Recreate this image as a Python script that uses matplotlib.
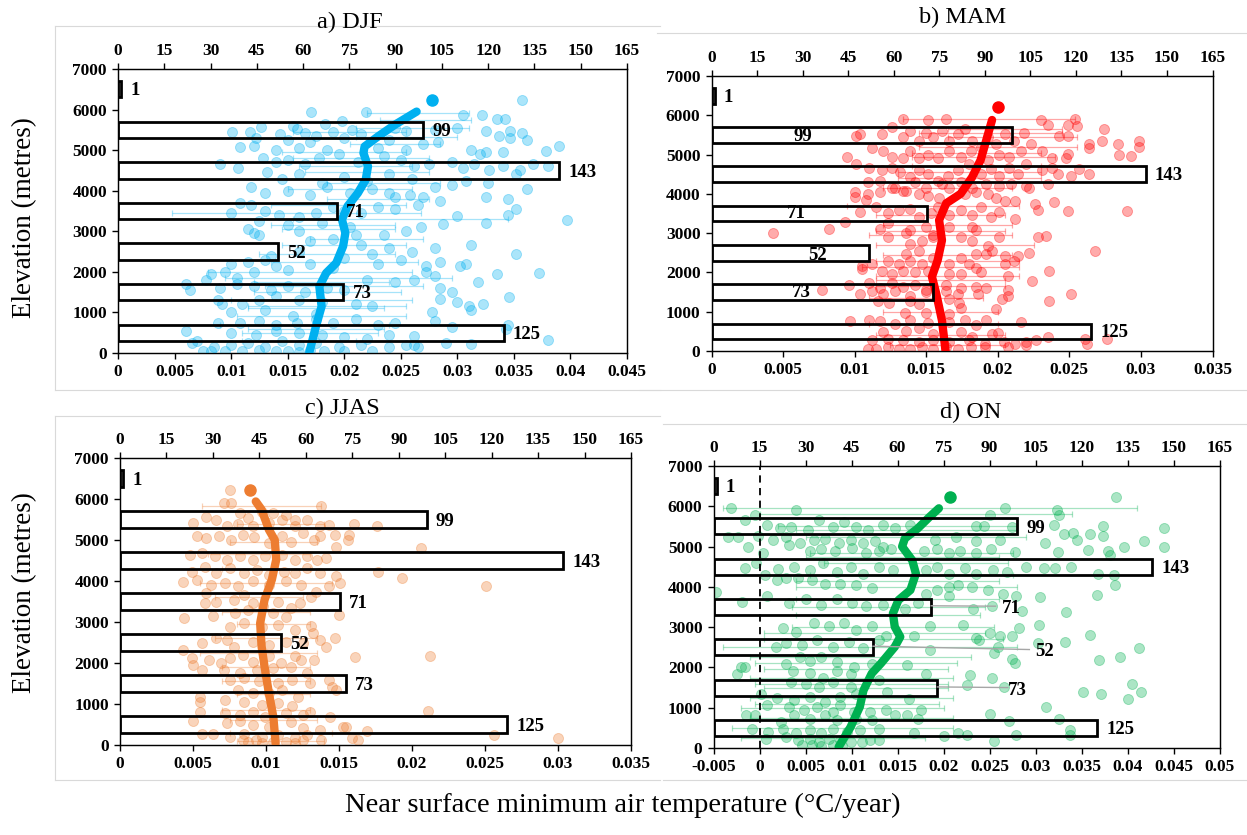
import matplotlib
matplotlib.use("Agg")
import matplotlib.pyplot as plt
from matplotlib.lines import Line2D

plt.rcParams['font.family'] = ['Liberation Serif', 'DejaVu Serif']

# ---------------- shared data ----------------
bin_centres = [500, 1500, 2500, 3500, 4500, 5500, 6500]
station_counts = [125, 73, 52, 71, 143, 99, 1]
count_ticks = list(range(0, 166, 15))
elev_ticks = list(range(0, 7001, 1000))
titles = ["a) DJF", "b) MAM", "c) JJAS", "d) ON"]
xlabel_text = "Near surface minimum air temperature (°C/year)"
ylabel_text = "Elevation (metres)"

djf_xticks = [0, 0.005, 0.01, 0.015, 0.02, 0.025, 0.03, 0.035, 0.04, 0.045]
mam_xticks = [0, 0.005, 0.01, 0.015, 0.02, 0.025, 0.03, 0.035]
jjas_xticks = [0, 0.005, 0.01, 0.015, 0.02, 0.025, 0.03, 0.035]
on_xticks = [-0.005, 0, 0.005, 0.01, 0.015, 0.02, 0.025, 0.03, 0.035, 0.04, 0.045, 0.05]

# ---------------- DJF ----------------
djf_points = [
(0.0357,6240),(0.0171,5930),(0.0219,5930),(0.0305,5870),(0.0322,5860),(0.0342,5760),(0.0335,5770),(0.0198,5730),
(0.0183,5650),(0.0126,5580),(0.0155,5600),(0.0158,5520),(0.0101,5450),(0.0117,5450),(0.0143,5400),(0.0165,5420),
(0.0175,5350),(0.0190,5450),(0.0207,5500),(0.0215,5400),(0.0245,5550),(0.0255,5480),(0.0280,5500),(0.0300,5550),
(0.0325,5480),(0.0347,5480),(0.0337,5340),(0.0357,5430),(0.0347,5300),(0.0362,5250),(0.0122,5300),(0.0150,5250),
(0.0170,5200),(0.0200,5300),(0.0240,5250),(0.0270,5150),(0.0283,5200),(0.0108,5080),(0.0120,5100),(0.0140,5000),
(0.0160,5050),(0.0185,5000),(0.0230,5050),(0.0255,5000),(0.0312,5000),(0.0320,4900),(0.0325,4950),(0.0378,4970),
(0.0390,5100),(0.0340,4950),
(0.0090,4650),(0.0106,4550),(0.0128,4800),(0.0140,4700),(0.0150,4750),(0.0165,4650),(0.0178,4800),(0.0195,4900),
(0.0212,4700),(0.0235,4850),(0.0250,4750),(0.0262,4600),(0.0275,4650),(0.0295,4700),(0.0305,4550),(0.0315,4650),
(0.0328,4500),(0.0340,4600),(0.0355,4500),(0.0367,4650),(0.0380,4600),(0.0352,4400),(0.0327,4200),(0.0308,4250),
(0.0295,4150),(0.0280,4100),(0.0260,4300),(0.0240,4400),(0.0220,4250),(0.0200,4350),(0.0180,4200),(0.0160,4400),
(0.0145,4300),(0.0132,4450),(0.0118,4100),(0.0130,3950),(0.0150,4000),(0.0170,3900),(0.0185,4100),(0.0205,3950),
(0.0225,4050),(0.0245,3850),(0.0258,3900),(0.0270,3850),(0.0325,3850),(0.0362,4050),(0.0345,3800),(0.0240,3950),
(0.0108,3700),(0.0118,3650),(0.0130,3500),(0.0142,3400),(0.0160,3350),(0.0175,3450),(0.0190,3600),(0.0200,3500),
(0.0215,3450),(0.0230,3600),(0.0245,3550),(0.0265,3650),(0.0285,3750),(0.0300,3380),(0.0345,3400),(0.0352,3550),
(0.0397,3280),(0.0287,3180),(0.0325,3200),(0.0100,3450),(0.0125,3250),(0.0150,3150),(0.0180,3200),(0.0205,3100),
(0.0255,3000),(0.0268,3100),(0.0115,3050),(0.0120,2950),(0.0125,2900),(0.0160,3000),(0.0210,2900),(0.0235,2900),
(0.0170,2750),(0.0190,2800),(0.0215,2650),(0.0240,2600),(0.0260,2500),(0.0280,2600),(0.0312,2650),(0.0352,2450),
(0.0225,2450),(0.0200,2350),(0.0160,2500),(0.0135,2400),(0.0130,2300),(0.0115,2250),(0.0100,2200),(0.0140,2150),
(0.0170,2200),(0.0190,2100),(0.0230,2200),(0.0250,2300),(0.0272,2150),(0.0285,2250),(0.0302,2150),(0.0308,2200),
(0.0272,2000),(0.0280,1900),(0.0335,1950),(0.0372,1970),(0.0150,2050),(0.0120,2000),(0.0105,1850),(0.0095,2000),
(0.0060,1700),(0.0064,1550),(0.0078,1800),(0.0082,1950),(0.0090,1600),(0.0105,1700),(0.0120,1650),(0.0135,1550),
(0.0150,1650),(0.0165,1500),(0.0185,1600),(0.0200,1550),(0.0220,1800),(0.0245,1750),(0.0262,1800),(0.0285,1600),
(0.0295,1500),(0.0318,1750),(0.0346,1380),(0.0285,1330),(0.0300,1250),(0.0310,1150),(0.0323,1200),(0.0312,1050),
(0.0278,1000),(0.0088,1300),(0.0092,1200),(0.0110,1200),(0.0125,1300),(0.0140,1400),(0.0160,1300),(0.0180,1250),
(0.0210,1200),(0.0225,1150),(0.0100,1000),(0.0130,1050),(0.0155,900),(0.0175,950),
(0.0088,750),(0.0108,750),(0.0125,800),(0.0140,700),(0.0158,750),(0.0175,850),(0.0190,750),(0.0210,850),
(0.0230,700),(0.0245,750),(0.0280,800),(0.0295,650),(0.0345,700),(0.0343,600),(0.0060,550),(0.0100,500),
(0.0122,450),(0.0140,550),(0.0160,500),(0.0180,450),(0.0200,400),(0.0220,350),(0.0240,450),(0.0262,430),
(0.0380,310),(0.0065,250),(0.0070,300),(0.0085,150),(0.0100,200),(0.0115,250),(0.0130,150),(0.0145,300),
(0.0160,200),(0.0175,250),(0.0195,150),(0.0215,200),(0.0240,150),(0.0255,200),(0.0265,150),(0.0290,250),
(0.0312,220),(0.0075,50),(0.0082,60),(0.0095,60),(0.0110,40),(0.0125,70),(0.0140,50),(0.0150,60),
(0.0160,30),(0.0170,80),(0.0182,50),(0.0200,60),(0.0225,50),(0.0262,200),
]
djf_line = [(0.0169,0),(0.0175,657),(0.0180,1150),(0.0178,1640),(0.0184,1970),(0.0193,2220),(0.0199,2630),
            (0.0201,2960),(0.0198,3290),(0.0203,3620),(0.0212,3940),(0.0219,4270),(0.0221,4600),(0.0217,4930),
            (0.0218,5090),(0.0230,5340),(0.0245,5630),(0.0264,5950)]
djf_top = (0.0278, 6240)
djf_err = [(0.0265,5920,0.0045),(0.0272,5750,0.0040),(0.0260,5550,0.0050),(0.0255,5320,0.0045),(0.0245,5150,0.0040),
           (0.0215,4800,0.0060),(0.0220,4450,0.0055),(0.0235,4200,0.0050),(0.0230,3800,0.0045),(0.0158,3450,0.0110),
           (0.0250,3300,0.0095),(0.0195,3050,0.0050),(0.0220,2800,0.0050),(0.0200,2650,0.0055),(0.0185,2450,0.0060),
           (0.0170,2000,0.0090),(0.0195,1850,0.0100),(0.0200,1650,0.0070),(0.0185,1500,0.0065),(0.0180,1300,0.0080),
           (0.0175,1100,0.0060),(0.0180,900,0.0075),(0.0165,700,0.0075),(0.0170,500,0.0060),(0.0160,300,0.0050),
           (0.0205,5450,0.0050),(0.0200,4950,0.0055),(0.0210,4600,0.0050),(0.0205,4050,0.0055),(0.0195,3650,0.0060),
           (0.0200,2250,0.0065),(0.0185,1150,0.0070),(0.0175,600,0.0060),(0.0190,3150,0.0055),(0.0180,1750,0.0060)]

# ---------------- MAM ----------------
mam_points = [
(0.0134,5900),(0.0151,5880),(0.0164,5900),(0.0230,5870),(0.0254,5900),(0.0255,5720),(0.0249,5740),(0.0235,5740),(0.0274,5650),
(0.0104,5520),(0.0101,5480),(0.0112,5170),(0.0119,5520),(0.0126,5690),(0.0134,5440),(0.0139,5610),(0.0145,5350),
(0.0150,5560),(0.0155,5440),(0.0161,5610),(0.0166,5350),(0.0172,5520),(0.0177,5650),(0.0182,5350),(0.0188,5180),
(0.0193,5440),(0.0199,5270),(0.0205,5520),(0.0211,5350),(0.0218,5560),(0.0223,5270),(0.0231,5100),(0.0243,5480),
(0.0249,5480),(0.0264,5270),(0.0273,5350),(0.0284,5270),(0.0299,5350),(0.0299,5200),(0.0285,5000),(0.0293,4970),
(0.0264,5170),(0.0249,5010),(0.0248,4900),(0.0238,4920),(0.0095,4950),(0.0120,5080),(0.0126,4950),(0.0134,4900),
(0.0139,5080),(0.0145,4900),(0.0151,5000),(0.0158,4900),(0.0166,5080),(0.0174,4950),(0.0181,5100),(0.0193,4860),
(0.0201,5000),(0.0208,4950),(0.0216,5080),
(0.0101,4750),(0.0110,4670),(0.0119,4600),(0.0126,4670),(0.0132,4550),(0.0139,4420),(0.0145,4600),(0.0151,4510),
(0.0158,4330),(0.0165,4460),(0.0172,4600),(0.0180,4750),(0.0188,4510),(0.0195,4630),(0.0201,4460),(0.0208,4670),
(0.0214,4510),(0.0220,4750),(0.0231,4600),(0.0238,4670),(0.0242,4510),(0.0251,4460),(0.0257,4630),(0.0264,4500),
(0.0235,4250),(0.0220,4200),(0.0209,4250),(0.0201,4200),(0.0192,4250),(0.0182,4160),(0.0174,4290),(0.0166,4160),
(0.0161,4250),(0.0150,4160),(0.0142,4290),(0.0134,4080),(0.0126,4160),(0.0118,4330),(0.0109,4290),(0.0100,4040),
(0.0100,3920),(0.0109,4000),(0.0118,4050),(0.0128,4160),(0.0136,4080),(0.0145,4000),(0.0151,3950),(0.0159,3900),
(0.0177,4000),(0.0185,4050),(0.0193,4000),(0.0199,3900),(0.0205,3830),(0.0212,3830),(0.0222,4160),(0.0226,3750),
(0.0239,3800),
(0.0093,3280),(0.0104,3530),(0.0108,3840),(0.0115,3670),(0.0123,3500),(0.0131,3580),(0.0139,3620),(0.0145,3400),
(0.0153,3500),(0.0158,3670),(0.0166,3450),(0.0174,3580),(0.0182,3450),(0.0188,3670),(0.0195,3400),(0.0201,3530),
(0.0212,3360),(0.0228,3580),(0.0249,3560),(0.0290,3560),(0.0043,3000),(0.0082,3100),(0.0118,3100),(0.0123,3250),
(0.0139,3080),(0.0150,3160),(0.0166,3160),(0.0182,3160),(0.0185,3080),(0.0201,2900),(0.0228,2900),(0.0234,2930),
(0.0123,2900),(0.0136,3000),(0.0155,2960),
(0.0139,2720),(0.0147,2800),(0.0155,2890),(0.0174,2890),(0.0182,2800),(0.0193,2680),(0.0196,2550),(0.0136,2460),
(0.0145,2550),(0.0155,2380),(0.0174,2380),(0.0185,2460),(0.0192,2460),(0.0205,2420),(0.0214,2420),(0.0211,2290),
(0.0222,2500),(0.0268,2550),(0.0123,2290),(0.0131,2210),(0.0139,2290),(0.0147,2210),(0.0166,2210),(0.0180,2210),
(0.0185,2120),(0.0205,2210),(0.0105,2170),(0.0112,2210),(0.0105,2080),(0.0119,2040),(0.0126,1960),(0.0134,2040),
(0.0142,2000),(0.0151,2040),(0.0166,1960),(0.0174,1960),(0.0188,2000),(0.0207,1910),(0.0236,2040),
(0.0096,1670),(0.0110,1720),(0.0118,1600),(0.0126,1720),(0.0134,1640),(0.0142,1670),(0.0150,1560),(0.0164,1670),
(0.0174,1600),(0.0185,1640),(0.0192,1600),(0.0224,1780),(0.0077,1560),(0.0104,1440),(0.0112,1530),(0.0120,1440),
(0.0128,1530),(0.0139,1400),(0.0150,1490),(0.0164,1530),(0.0172,1440),(0.0186,1440),(0.0207,1400),(0.0207,1550),
(0.0251,1440),(0.0116,1270),(0.0124,1230),(0.0139,1270),(0.0145,1190),(0.0166,1320),(0.0173,1230),(0.0174,1100),
(0.0203,1320),(0.0236,1270),(0.0199,1060),(0.0135,980),(0.0150,980),(0.0166,930),
(0.0097,760),(0.0110,800),(0.0118,760),(0.0128,700),(0.0139,780),(0.0151,720),(0.0166,740),(0.0177,780),
(0.0185,650),(0.0192,780),(0.0216,740),(0.0120,480),(0.0136,520),(0.0145,590),(0.0155,440),(0.0174,480),
(0.0182,360),(0.0196,440),(0.0200,460),(0.0112,270),(0.0123,310),(0.0134,270),(0.0145,240),(0.0155,270),
(0.0166,240),(0.0180,270),(0.0191,190),(0.0204,240),(0.0212,190),(0.0220,240),(0.0227,270),(0.0235,360),
(0.0262,190),(0.0261,310),(0.0276,310),(0.0109,60),(0.0115,60),(0.0123,100),(0.0131,60),(0.0139,60),
(0.0147,100),(0.0155,60),(0.0164,100),(0.0172,60),(0.0181,100),(0.0191,100),(0.0207,100),(0.0220,150),
]
mam_line = [(0.01635,0),(0.0161,780),(0.0157,1460),(0.0154,1890),(0.0158,2310),(0.0161,2820),(0.0159,3330),
            (0.0164,3760),(0.0174,4000),(0.0182,4420),(0.0188,4860),(0.0192,5370),(0.0196,5880)]
mam_top = (0.0200, 6220)
mam_err = [(0.0194,5900,0.0060),(0.0205,5650,0.0040),(0.0210,5450,0.0045),(0.0200,5200,0.0055),(0.0190,4950,0.0050),
           (0.0185,4700,0.0045),(0.0180,4400,0.0050),(0.0165,4150,0.0045),(0.0155,3700,0.0060),(0.0160,3450,0.0045),
           (0.0165,3200,0.0045),(0.0160,2950,0.0050),(0.0170,2700,0.0055),(0.0165,2450,0.0045),(0.0160,2150,0.0055),
           (0.0165,1900,0.0050),(0.0160,1650,0.0045),(0.0150,1350,0.0040),(0.0160,1000,0.0040),(0.0155,700,0.0045),
           (0.0160,400,0.0045),(0.0165,150,0.0040),(0.0195,5550,0.0050),(0.0185,5050,0.0045),(0.0180,4550,0.0050),
           (0.0160,3050,0.0045),(0.0165,2300,0.0050),(0.0160,1800,0.0045)]

# ---------------- JJAS ----------------
jjas_points = [
(0.0075,6220),(0.0071,5910),(0.0076,5910),(0.0138,5830),(0.0059,5570),(0.0082,5650),(0.0088,5530),(0.0097,5690),
(0.0105,5650),(0.0114,5610),(0.0120,5490),(0.0050,5410),(0.0066,5490),(0.0073,5330),(0.0081,5400),(0.0091,5330),
(0.0102,5410),(0.0111,5490),(0.0120,5330),(0.0128,5480),(0.0137,5330),(0.0143,5370),(0.0160,5400),(0.0176,5330),
(0.0053,5100),(0.0059,5040),(0.0068,5090),(0.0076,5000),(0.0084,5130),(0.0092,5080),(0.0102,4920),(0.0111,5090),
(0.0117,4960),(0.0125,5170),(0.0133,5000),(0.0137,5090),(0.0147,5130),(0.0148,4840),(0.0156,5000),(0.0157,5130),
(0.0206,4800),(0.0048,4640),(0.0056,4680),(0.0065,4600),(0.0073,4520),(0.0082,4600),(0.0091,4520),(0.0099,4600),
(0.0111,4640),(0.0120,4520),(0.0128,4600),(0.0135,4520),(0.0141,4560),(0.0049,4230),(0.0058,4350),(0.0066,4190),
(0.0075,4310),(0.0085,4190),(0.0094,4270),(0.0102,4150),(0.0112,4230),(0.0120,4190),(0.0128,4310),(0.0137,4190),
(0.0148,4110),(0.0177,4230),(0.0193,4080),(0.0043,3970),(0.0053,4030),(0.0062,3910),(0.0072,3950),(0.0081,3870),
(0.0091,3990),(0.0102,3910),(0.0114,3990),(0.0124,3910),(0.0134,3740),(0.0143,3870),(0.0151,3950),(0.0251,3870),
(0.0059,3700),(0.0066,3500),(0.0058,3460),(0.0078,3540),(0.0085,3660),(0.0091,3460),(0.0098,3380),(0.0108,3500),
(0.0117,3340),(0.0123,3460),(0.0131,3620),(0.0079,3210),(0.0088,3300),(0.0105,3210),(0.0114,3130),(0.0150,3170),
(0.0044,3090),(0.0064,3150),(0.0075,2890),(0.0085,2970),(0.0097,2890),(0.0108,2930),(0.0120,2810),(0.0131,2910),
(0.0132,2740),
(0.0066,2600),(0.0073,2560),(0.0056,2480),(0.0078,2400),(0.0091,2520),(0.0102,2440),(0.0114,2520),(0.0125,2480),
(0.0137,2560),(0.0147,2600),(0.0141,2380),(0.0043,2320),(0.0049,2110),(0.0050,1950),(0.0056,1830),(0.0061,2070),
(0.0069,1990),(0.0075,2110),(0.0084,2200),(0.0091,2030),(0.0102,2160),(0.0110,1990),(0.0120,2160),(0.0124,2070),
(0.0133,2070),(0.0161,2140),(0.0212,2160),(0.0071,1830),(0.0082,1750),(0.0094,1830),(0.0105,1870),(0.0117,1910),
(0.0128,1750),
(0.0075,1590),(0.0085,1630),(0.0095,1550),(0.0108,1510),(0.0118,1590),(0.0130,1510),(0.0143,1590),(0.0148,1340),
(0.0145,1420),(0.0081,1340),(0.0091,1260),(0.0102,1260),(0.0111,1340),(0.0122,1180),(0.0055,1180),(0.0055,1060),
(0.0072,1100),(0.0085,1060),(0.0097,980),(0.0108,1020),(0.0118,940),(0.0211,840),
(0.0055,810),(0.0072,790),(0.0082,730),(0.0091,810),(0.0099,690),(0.0114,770),(0.0125,730),(0.0130,810),
(0.0144,690),(0.0050,590),(0.0073,530),(0.0082,590),(0.0091,490),(0.0102,450),(0.0117,570),(0.0125,410),
(0.0137,370),(0.0153,450),(0.0155,450),(0.0169,330),(0.0056,280),(0.0064,280),(0.0075,200),(0.0085,280),
(0.0097,200),(0.0108,240),(0.0120,160),(0.0128,240),(0.0138,120),(0.0159,160),(0.0163,120),(0.0256,240),
(0.0300,160),(0.0088,80),(0.0097,40),(0.0105,80),(0.0114,80),(0.0120,40),(0.0125,120),(0.0084,120),(0.0093,120),
]
jjas_line = [(0.01066,40),(0.0105,690),(0.0102,1260),(0.0099,1910),(0.0097,2400),(0.0096,2970),(0.0099,3540),
             (0.0104,4030),(0.0107,4520),(0.0106,5000),(0.0102,5250),(0.0097,5740),(0.0093,5940)]
jjas_top = (0.0089, 6220)
jjas_err = [(0.0097,5830,0.0041),(0.0110,5400,0.0030),(0.0105,4950,0.0030),(0.0095,4650,0.0035),(0.0100,4300,0.0030),
            (0.0100,3950,0.0045),(0.0095,3600,0.0030),(0.0100,3250,0.0030),(0.0105,2950,0.0025),(0.0100,2600,0.0035),
            (0.0095,2250,0.0040),(0.0100,1900,0.0030),(0.0100,1550,0.0030),(0.0105,1250,0.0025),(0.0100,850,0.0030),
            (0.0105,600,0.0030),(0.0110,300,0.0035),(0.0110,100,0.0030)]

# ---------------- ON ----------------
on_points = [
(0.0388,6240),(-0.0031,5950),(0.0040,5900),(0.0267,5950),(0.0323,5900),(0.0326,5780),(0.0250,5780),(-0.0005,5780),
(-0.0016,5650),(0.0008,5530),(0.0022,5450),(0.0034,5490),(0.0053,5410),(0.0065,5650),(0.0080,5490),(0.0092,5610),
(0.0105,5490),(0.0118,5410),(0.0134,5530),(0.0147,5450),(0.0164,5530),(0.0235,5510),(0.0244,5510),(0.0274,5490),
(0.0320,5530),(0.0373,5510),(0.0440,5450),(0.0331,5320),(0.0341,5340),(0.0359,5300),(0.0373,5260),(0.0345,5170),
(-0.0034,5250),(-0.0023,5250),(-0.0002,5260),(0.0015,5170),(0.0029,5250),(0.0044,5090),(0.0059,5170),(0.0071,5200),
(0.0086,5090),(0.0099,5170),(0.0113,5090),(0.0126,5130),(0.0134,5000),(0.0191,5170),(0.0214,5250),(0.0235,5130),
(0.0261,5170),(0.0310,5090),(0.0418,5130),(-0.0012,5000),(0.0004,4830),(0.0032,5050),(0.0055,4890),(0.0067,4930),
(0.0082,4890),(0.0101,4970),(0.0116,4850),(0.0130,4890),(0.0143,4930),(0.0179,4890),(0.0193,4930),(0.0206,4850),
(0.0218,4890),(0.0235,4850),(0.0252,4930),(0.0278,4870),(0.0324,4870),(0.0357,4920),(0.0379,4890),(0.0396,5000),
(0.0440,5000),(0.0381,4780),
(-0.0016,4480),(-0.0004,4580),(0.0020,4440),(0.0038,4500),(0.0055,4410),(0.0069,4580),(0.0084,4370),(0.0099,4500),
(0.0113,4330),(0.0130,4500),(0.0145,4410),(0.0181,4410),(0.0193,4500),(0.0206,4330),(0.0223,4460),(0.0235,4330),
(0.0254,4410),(0.0269,4370),(0.0290,4500),(0.0309,4460),(0.0321,4460),(0.0339,4500),(0.0368,4320),(0.0385,4290),
(0.0386,4040),(0.0367,3790),(0.0305,3750),(0.0279,3770),(0.0265,3830),(0.0248,3920),(0.0231,4000),(0.0216,4040),
(0.0206,4000),(0.0193,3920),(0.0181,3830),(0.0122,3960),(0.0105,4040),(0.0088,4080),(0.0071,4080),(0.0057,4170),
(0.0042,4210),(0.0029,4210),(0.0019,4170),(0.0006,4290),(0.0008,3770),(-0.0047,3870),(-0.0019,3620),(0.0032,3600),
(0.0050,3690),(0.0067,3560),(0.0084,3690),(0.0101,3600),(0.0116,3520),(0.0134,3560),(0.0158,3440),(0.0172,3600),
(0.0206,3770),(0.0232,3440),(0.0253,3520),(0.0285,3400),(0.0333,3370),
(0.0026,2970),(0.0040,2890),(0.0059,3100),(0.0076,3020),(0.0092,3100),(0.0105,2930),(0.0122,3020),(0.0137,2770),
(0.0168,2770),(0.0185,3020),(0.0221,3060),(0.0235,2730),(0.0250,2860),(0.0261,2770),(0.0274,2780),(0.0282,2970),
(0.0304,3060),(0.0359,2800),(0.0332,2640),(0.0018,2510),(0.0029,2610),(0.0046,2550),(0.0063,2680),(0.0080,2510),
(0.0097,2640),(0.0113,2470),(0.0130,2680),(0.0185,2430),(0.0239,2680),(0.0255,2370),(0.0259,2510),(0.0303,2610),
(0.0413,2480),(0.0392,2250),(0.0369,2190),(0.0274,2220),(0.0278,2100),(0.0160,2060),(0.0029,2090),(0.0044,2260),
(0.0055,2170),(0.0067,2260),(0.0084,2130),(0.0103,2010),(0.0122,2090),(-0.0016,2010),(-0.0020,2010),(-0.0025,1830),
(0.0036,1920),(0.0055,1870),(0.0069,1750),(0.0084,1920),(0.0099,1830),(0.0181,1830),(0.0229,1810),(0.0253,1730),
(0.0034,1640),(0.0050,1600),(0.0065,1510),(0.0080,1640),(0.0099,1510),(0.0130,1680),(0.0225,1560),(0.0266,1510),
(0.0405,1600),(0.0415,1390),(0.0352,1390),(0.0371,1350),(0.0400,1220),(0.0311,1020),(0.0002,1350),(0.0019,1230),
(0.0038,1190),(0.0055,1270),(0.0071,1140),(0.0088,1270),(0.0105,1350),(0.0139,1390),(0.0162,1210),(0.0008,1060),
(0.0032,1020),(0.0048,940),(0.0063,1020),(0.0080,890),(0.0088,1060),(0.0103,890),(0.0120,890),(0.0137,940),
(0.0176,940),
(-0.0015,810),(-0.0005,810),(0.0023,650),(0.0038,810),(0.0055,730),(0.0071,810),(0.0084,690),(0.0105,730),
(0.0122,690),(0.0147,810),(0.0160,810),(0.0172,730),(0.0251,850),(0.0271,670),(0.0325,730),(-0.0008,480),
(0.0009,400),(0.0025,480),(0.0040,360),(0.0055,440),(0.0067,360),(0.0080,480),(0.0095,400),(0.0109,440),
(0.0130,480),(0.0168,360),(0.0200,290),(0.0216,360),(0.0225,320),(0.0279,320),(0.0337,450),(0.0337,320),
(0.0007,230),(0.0029,270),(0.0042,190),(0.0055,230),(0.0065,150),(0.0076,230),(0.0088,190),(0.0099,150),
(0.0111,150),(0.0120,190),(0.0130,190),(0.0255,170),(0.0046,70),(0.0057,70),(0.0067,40),(0.0080,70),(0.0090,40),
]
on_line = [(0.0086,25),(0.0099,520),(0.0109,1020),(0.0113,1430),(0.0122,1850),(0.0132,2100),(0.0147,2510),
           (0.0153,2760),(0.0147,3010),(0.0145,3340),(0.0151,3670),(0.0164,3920),(0.0170,4330),(0.0166,4660),
           (0.0155,5000),(0.0158,5200),(0.0172,5450),(0.0185,5740),(0.0195,5950)]
on_top = (0.0207, 6240)
on_err = [(0.0185,5950,0.0225),(0.0170,5800,0.0170),(0.0150,5500,0.0130),(0.0170,5250,0.0120),(0.0165,4850,0.0110),
          (0.0170,4600,0.0100),(0.0165,4300,0.0110),(0.0160,4000,0.0120),(0.0150,3700,0.0110),(0.0140,3300,0.0100),
          (0.0145,3000,0.0110),(0.0135,2700,0.0130),(0.0120,2500,0.0160),(0.0110,2250,0.0120),(0.0105,1950,0.0100),
          (0.0100,1750,0.0110),(0.0105,1500,0.0100),(0.0100,1250,0.0110),(0.0090,1000,0.0110),(0.0100,750,0.0110),
          (0.0090,500,0.0120),(0.0080,250,0.0100),(0.0160,5400,0.0120),(0.0155,4750,0.0105),(0.0150,4150,0.0110),
          (0.0140,3500,0.0105),(0.0125,2850,0.0120),(0.0105,2100,0.0110),(0.0100,1600,0.0105),(0.0095,1100,0.0100)]

# ---------------- layout / style ----------------
panels = [
    dict(title=titles[0], pts=djf_points, line=djf_line, top=djf_top, err=djf_err, xt=djf_xticks,
         color='#00B0F0', rect=[118/1247, 1-353/835, 509/1247, 284/835], tpos=(350, 22)),
    dict(title=titles[1], pts=mam_points, line=mam_line, top=mam_top, err=mam_err, xt=mam_xticks,
         color='#FF0000', rect=[711.5/1247, 1-351/835, 501/1247, 275/835], tpos=(963, 17)),
    dict(title=titles[2], pts=jjas_points, line=jjas_line, top=jjas_top, err=jjas_err, xt=jjas_xticks,
         color='#ED7D31', rect=[120/1247, 1-745/835, 511/1247, 287/835], tpos=(342, 408)),
    dict(title=titles[3], pts=on_points, line=on_line, top=on_top, err=on_err, xt=on_xticks,
         color='#00B050', rect=[713.5/1247, 1-748/835, 506/1247, 282/835], tpos=(971, 412)),
]
# bar label placement per panel: (x in count units, y elevation, ha)
label_pos = [
    None,
    {5500: (30, 5450, 'center'), 3500: (28, 3500, 'center'), 2500: (35, 2440, 'center'), 1500: (29.5, 1480, 'center')},
    None,
    {3500: (94, 3460, 'left'), 2500: (105, 2390, 'left'), 1500: (96, 1430, 'left')},
]
leaders = {3500: ((71, 3530), (92, 3520)), 2500: ((52, 2527), (103, 2444)), 1500: ((73, 1516), (96, 1500))}

fig = plt.figure(figsize=(12.47, 8.35), dpi=100)
tick_font = dict(fontsize=12.5, fontweight='bold')


def fmt(v):
    s = ('%.3f' % v).rstrip('0').rstrip('.')
    return '0' if s in ('-0', '0', '') else s


for i, p in enumerate(panels):
    ax = fig.add_axes(p['rect'])
    c = p['color']
    xs = [q[0] for q in p['pts']]
    ys = [q[1] for q in p['pts']]
    ex = [q[0] for q in p['err']]
    ey = [q[1] for q in p['err']]
    ew = [q[2] for q in p['err']]
    ax.errorbar(ex, ey, xerr=ew, fmt='none', ecolor=c, alpha=0.35, elinewidth=0.9, capsize=2.5,
                capthick=0.9, zorder=2)
    ax.scatter(xs, ys, s=52, facecolor=c, edgecolor=c, alpha=0.33, linewidths=0.7, zorder=3)
    lx = [q[0] for q in p['line']]
    ly = [q[1] for q in p['line']]
    ax.plot(lx, ly, color=c, lw=6.0, solid_capstyle='round', solid_joinstyle='round', zorder=5)
    ax.plot([p['top'][0]], [p['top'][1]], 'o', color=c, ms=8, zorder=5)
    if i == 3:
        ax.axvline(0, color='black', ls=(0, (4, 3)), lw=1.3, zorder=4)
    ax.set_xlim(p['xt'][0], p['xt'][-1])
    ax.set_ylim(0, 7000)
    ax.set_xticks(p['xt'])
    ax.set_xticklabels([fmt(v) for v in p['xt']], **tick_font)
    ax.set_yticks(elev_ticks)
    ax.set_yticklabels([str(v) for v in elev_ticks], **tick_font)
    ax.tick_params(direction='out', length=4, width=1, pad=4)
    for s in ax.spines.values():
        s.set_linewidth(1.0)
        s.set_color('#222222')

    ax2 = ax.twiny()
    ax2.set_xlim(0, 165)
    ax2.set_xticks(count_ticks)
    ax2.set_xticklabels([str(v) for v in count_ticks], **tick_font)
    ax2.tick_params(direction='out', length=4, width=1, pad=3)
    ax2.barh(bin_centres, station_counts, height=400, left=0, facecolor='none', edgecolor='black',
             linewidth=2.0, zorder=1)
    lp = label_pos[i] or {}
    for yc, n in zip(bin_centres, station_counts):
        if yc in lp:
            tx, ty, ha = lp[yc]
        else:
            tx, ty, ha = n + 3, yc - 40, 'left'
        ax2.text(tx, ty, str(n), ha=ha, va='center', fontsize=13.5, fontweight='bold')
        if i == 3 and yc in leaders:
            (x0, y0), (x1, y1) = leaders[yc]
            ax2.plot([x0, x1], [y0, y1], color='#A6A6A6', lw=1.0)
    fig.text(p['tpos'][0] / 1247, 1 - p['tpos'][1] / 835, p['title'], ha='center', va='center', fontsize=17.5)

# y labels and common x label
fig.text(25 / 1247, 1 - 218 / 835, ylabel_text, rotation=90, ha='center', va='center', fontsize=19.5)
fig.text(25 / 1247, 1 - 593 / 835, ylabel_text, rotation=90, ha='center', va='center', fontsize=19.5)
fig.text(623 / 1247, 1 - 805 / 835, xlabel_text, ha='center', va='center', fontsize=20.5)

# faint chart-area frames
g = '#D9D9D9'
for (x0, y0, x1, y1) in [(55, 26, 660, 26), (55, 26, 55, 390), (55, 390, 660, 390),
                         (657, 33, 1247, 33), (640, 390, 1247, 390),
                         (55, 416, 660, 416), (55, 416, 55, 780), (55, 780, 660, 780),
                         (663, 424, 1247, 424), (663, 780, 1247, 780)]:
    fig.add_artist(Line2D([x0 / 1247, x1 / 1247], [1 - y0 / 835, 1 - y1 / 835], color=g, lw=0.8))

fig.savefig('out.png', dpi=100, facecolor='white')
